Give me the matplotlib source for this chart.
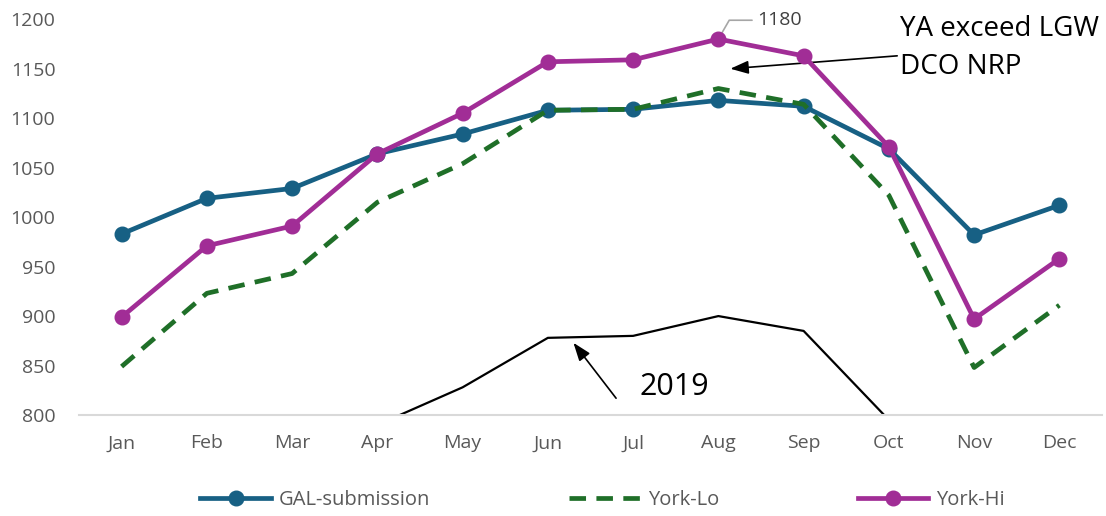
import numpy as np
import matplotlib
matplotlib.use("Agg")
import matplotlib.pyplot as plt

months = ["Jan", "Feb", "Mar", "Apr", "May", "Jun", "Jul", "Aug", "Sep", "Oct", "Nov", "Dec"]
gal_submission = [983, 1019, 1029, 1064, 1084, 1108, 1109, 1118, 1112, 1069, 982, 1012]
york_lo = [849, 923, 943, 1015, 1054, 1108, 1109, 1130, 1114, 1022, 848, 911]
york_hi = [899, 971, 991, 1064, 1105, 1157, 1159, 1180, 1163, 1071, 897, 958]
# only the part above 800 is visible in the picture
actual_2019 = [np.nan, np.nan, np.nan, 790, 828, 878, 880, 900, 885, 795, np.nan, np.nan]

GAL_COLOR = "#176084"
LO_COLOR = "#1f6f28"
HI_COLOR = "#a12d96"
TEXT_GREY = "#595959"

plt.rcParams["font.family"] = ["Open Sans", "DejaVu Sans"]

fig = plt.figure(figsize=(11.06, 5.16), dpi=100)
ax = fig.add_axes([0.0714, 0.1957, 0.925, 0.767])

x = np.arange(len(months))
ax.plot(x, actual_2019, color="black", lw=1.6, zorder=2)
ax.plot(x, gal_submission, color=GAL_COLOR, lw=3.4, marker="o", ms=10.5,
        label="GAL-submission", zorder=3)
ax.plot(x, york_lo, color=LO_COLOR, lw=3.4, ls=(0, (3.5, 2.2)),
        label="York-Lo", zorder=4)
ax.plot(x, york_hi, color=HI_COLOR, lw=3.4, marker="o", ms=10.5,
        label="York-Hi", zorder=5)

ax.set_xlim(-0.5, len(months) - 0.5)
ax.set_ylim(800, 1200)
ax.set_yticks(np.arange(800, 1201, 50))
ax.set_xticks(x)
ax.set_xticklabels(months)
ax.tick_params(axis="both", length=0, labelsize=14, labelcolor=TEXT_GREY)
ax.tick_params(axis="y", pad=17)
ax.tick_params(axis="x", pad=14)
for side in ["top", "right", "left"]:
    ax.spines[side].set_visible(False)
ax.spines["bottom"].set_color("#d9d9d9")
ax.spines["bottom"].set_linewidth(1.5)

# data label on the August peak of York-Hi
peak = int(np.argmax(york_hi))
ax.annotate(f"{york_hi[peak]}", xy=(peak, york_hi[peak]), xytext=(peak + 0.46, 1199),
            fontsize=14, color="#404040", va="center", ha="left",
            arrowprops=dict(arrowstyle="-", color="#a6a6a6", lw=1.2,
                            connectionstyle="angle,angleA=0,angleB=60,rad=0",
                            shrinkA=2, shrinkB=3),
            annotation_clip=False)

arrow_style = dict(arrowstyle="-|>,head_length=1.1,head_width=0.4", mutation_scale=10,
                   color="black", lw=1.2, shrinkA=0, shrinkB=0)

ax.annotate("YA exceed LGW\nDCO NRP", xy=(7.14, 1150), xytext=(9.13, 1171),
            fontsize=20, color="black", va="center", ha="left", linespacing=1.45,
            arrowprops=arrow_style, annotation_clip=False)

ax.annotate("", xy=(5.30, 873), xytext=(5.80, 817), arrowprops=arrow_style)
ax.text(6.08, 828, "2019", fontsize=22, color="black", va="center", ha="left")

fig.legend(loc="center", bbox_to_anchor=(0.545, 0.031), ncol=3, frameon=False,
           fontsize=14.5, handlelength=3.5, handletextpad=0.4, columnspacing=6.9,
           labelcolor=TEXT_GREY)

fig.savefig("out.png", dpi=100)
